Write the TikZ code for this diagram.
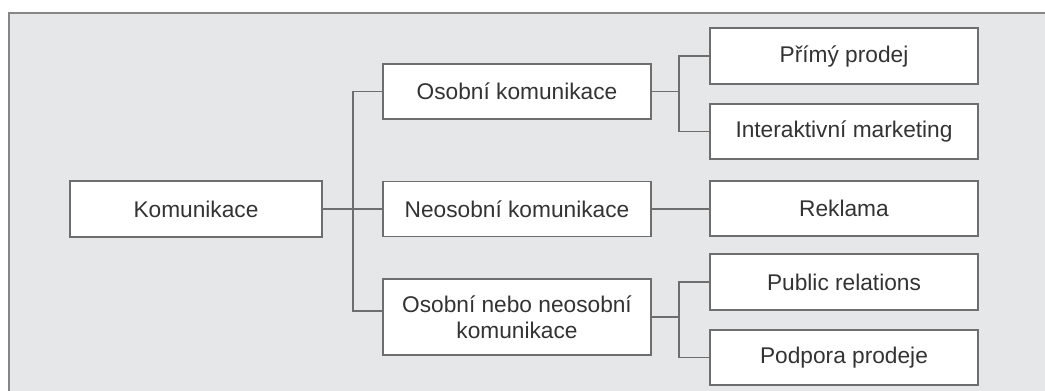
\documentclass[tikz,border=0pt]{standalone}
\usepackage{fontspec}
\setmainfont{Liberation Sans}
\definecolor{panel}{HTML}{E6E7E9}
\definecolor{frame}{HTML}{868686}
\definecolor{edge}{HTML}{6E6E6E}
\definecolor{ink}{HTML}{333333}
\tikzset{
  box/.style={draw=edge, line width=1.8pt, fill=white, minimum width=268pt, inner sep=2pt,
    text=ink, font=\fontsize{22.7}{26}\selectfont, align=center},
  link/.style={draw=edge, line width=1.8pt}
}
\begin{document}
\begin{tikzpicture}[x=1pt,y=-1pt]
\useasboundingbox (0,0) rectangle (1045,391);
\fill[panel] (9,13) rectangle (1045,391);
\draw[frame, line width=2pt] (9,391) -- (9,13) -- (1045,13);
% nodes
\node[box, minimum width=252pt, minimum height=56pt] (kom) at (196,209) {Komunikace};
\node[box, minimum height=55pt] (osob) at (517,91.5) {Osobní komunikace};
\node[box, minimum height=55pt] (neos) at (517,209) {Neosobní komunikace};
\node[box, minimum height=76pt] (ono) at (517,317) {Osobní nebo neosobní\\komunikace};
\node[box, minimum height=56pt] (pp) at (844,56) {Přímý prodej};
\node[box, minimum height=55pt] (im) at (844,131.5) {Interaktivní marketing};
\node[box, minimum height=55pt] (rek) at (844,208.5) {Reklama};
\node[box, minimum height=56pt] (pr) at (844,282) {Public relations};
\node[box, minimum height=55pt] (ppd) at (844,357.5) {Podpora prodeje};
% junctions
\coordinate (j1) at (353,91.5);
\coordinate (j2) at (353,311);
\coordinate (b1) at (679,91.5);
\coordinate (b2) at (679,317);
% connectors
\draw[link] (kom.east) -- (neos.west);
\draw[link] (osob.west) -- (j1) -- (j2) -- (ono.west |- j2);
\draw[link] (neos.east) -- (rek.west |- neos.east);
\draw[link] (osob.east) -- (b1);
\draw[link] (pp.west) -| (b1) |- (im.west);
\draw[link] (ono.east) -- (b2);
\draw[link] (pr.west) -| (b2) |- (ppd.west);
\end{tikzpicture}
\end{document}
